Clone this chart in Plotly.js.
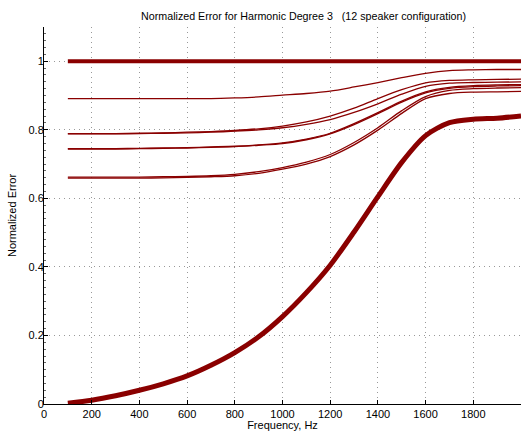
<!DOCTYPE html>
<html>
<head>
<meta charset="utf-8">
<script src="https://cdn.plot.ly/plotly-3.0.1.min.js"></script>
<style>
  html, body { margin: 0; padding: 0; background: #ffffff; }
  #chart { width: 521px; height: 431px; }
</style>
</head>
<body>
<div id="chart"></div>
<script>
// Frequency samples, Hz
const freq = [100, 200, 300, 400, 500, 600, 700, 800, 900, 1000,
              1100, 1200, 1300, 1400, 1500, 1600, 1700, 1800, 1900, 2000];

// Reference level (upper bound)
const errUpper = [1, 1, 1, 1, 1, 1, 1, 1, 1, 1,
                  1, 1, 1, 1, 1, 1, 1, 1, 1, 1];

// Overall error (thick lower curve)
const errTotal = [0.002, 0.011, 0.024, 0.040, 0.059, 0.082, 0.113, 0.150, 0.196, 0.255,
                  0.325, 0.405, 0.502, 0.605, 0.705, 0.783, 0.821, 0.831, 0.834, 0.840];

// Per-order error curves (thin lines)
const errOrderA  = [0.891, 0.891, 0.891, 0.891, 0.891, 0.891, 0.891, 0.893, 0.896, 0.901,
                    0.906, 0.913, 0.925, 0.938, 0.952, 0.965, 0.973, 0.975, 0.976, 0.976];
const errOrderB1 = [0.789, 0.789, 0.789, 0.790, 0.791, 0.793, 0.795, 0.798, 0.803, 0.811,
                    0.823, 0.840, 0.863, 0.891, 0.917, 0.937, 0.944, 0.946, 0.947, 0.948];
const errOrderB2 = [0.788, 0.788, 0.788, 0.789, 0.790, 0.791, 0.793, 0.796, 0.800, 0.806,
                    0.816, 0.830, 0.851, 0.876, 0.904, 0.927, 0.936, 0.938, 0.939, 0.940];
const errOrderC1 = [0.745, 0.745, 0.745, 0.746, 0.747, 0.748, 0.750, 0.752, 0.756, 0.762,
                    0.773, 0.790, 0.818, 0.850, 0.884, 0.911, 0.924, 0.929, 0.931, 0.932];
const errOrderC2 = [0.744, 0.744, 0.744, 0.745, 0.746, 0.747, 0.749, 0.751, 0.755, 0.760,
                    0.771, 0.788, 0.815, 0.847, 0.881, 0.908, 0.921, 0.926, 0.928, 0.929];
const errOrderD1 = [0.662, 0.662, 0.662, 0.662, 0.663, 0.664, 0.666, 0.670, 0.678, 0.690,
                    0.706, 0.728, 0.763, 0.806, 0.856, 0.897, 0.915, 0.920, 0.922, 0.923];
const errOrderD2 = [0.659, 0.659, 0.659, 0.659, 0.660, 0.661, 0.663, 0.666, 0.673, 0.685,
                    0.700, 0.722, 0.756, 0.799, 0.848, 0.891, 0.906, 0.910, 0.911, 0.912];

// Axis ticks
const xTicks = [0, 200, 400, 600, 800, 1000, 1200, 1400, 1600, 1800];
const yTicks = [0, 0.2, 0.4, 0.6, 0.8, 1];
const yTickText = ['0', '0.2', '0.4', '0.6', '0.8', '1'];

const lineColor = '#8a0000';
const font = 'Liberation Sans, Arial, Helvetica, sans-serif';

function curve(y, width) {
  return {
    x: freq, y: y, type: 'scatter', mode: 'lines',
    line: { color: lineColor, width: width, shape: 'spline', smoothing: 0.8 },
    hoverinfo: 'skip', showlegend: false
  };
}

const thin = [errOrderA, errOrderB1, errOrderB2, errOrderC1, errOrderC2, errOrderD1, errOrderD2];
const traces = thin.map(s => curve(s, 1.3));
traces.push(curve(errUpper, 4));
traces.push(curve(errTotal, 5));

const axisCommon = {
  showline: true, linecolor: '#000000', linewidth: 1, mirror: false,
  ticks: 'inside', ticklen: 4, tickcolor: '#000000', tickwidth: 1,
  showgrid: true, gridcolor: '#999999', gridwidth: 1, griddash: '1px,4px',
  zeroline: false,
  tickfont: { family: font, size: 11, color: '#000000' }
};

const layout = {
  width: 521, height: 431,
  margin: { l: 44, r: 0, t: 27, b: 27, pad: 0 },
  paper_bgcolor: '#ffffff', plot_bgcolor: '#ffffff',
  title: {
    text: 'Normalized Error for Harmonic Degree 3   (12 speaker configuration)',
    font: { family: font, size: 10.7, color: '#000000' },
    x: 0.5826, xanchor: 'center', y: 0.963, yanchor: 'middle'
  },
  xaxis: Object.assign({}, axisCommon, {
    range: [0, 2000], tickmode: 'array', tickvals: xTicks,
    ticktext: xTicks.map(String),
    title: { text: 'Frequency, Hz', font: { family: font, size: 11, color: '#000000' }, standoff: 1 }
  }),
  yaxis: Object.assign({}, axisCommon, {
    range: [0, 1.1], tickmode: 'array', tickvals: yTicks, ticktext: yTickText,
    ticklabelstandoff: -3,
    minor: { ticks: 'inside', ticklen: 2, tickcolor: '#666666', dtick: 0.02, showgrid: false },
    title: { text: 'Normalized Error', font: { family: font, size: 11, color: '#000000' }, standoff: 9 }
  })
};

Plotly.newPlot('chart', traces, layout, { staticPlot: true, displayModeBar: false });
</script>
</body>
</html>
